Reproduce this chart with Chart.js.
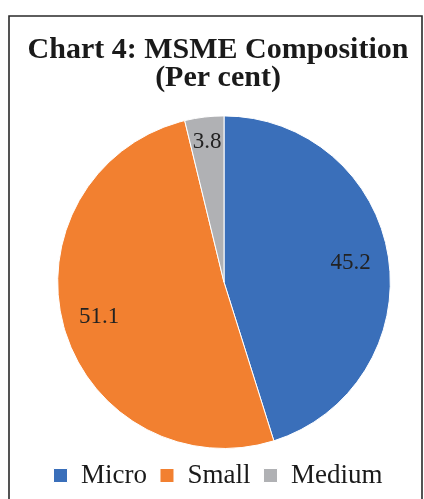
<!DOCTYPE html>
<html>
<head>
<meta charset="utf-8">
<script src="https://cdn.jsdelivr.net/npm/chart.js@4/dist/chart.umd.min.js"></script>
<style>
  html, body { margin: 0; padding: 0; background: #ffffff; }
  #wrap { position: relative; width: 424px; height: 499px; }
  canvas { display: block; }
</style>
</head>
<body>
<div id="wrap"><canvas id="c" width="424" height="499"></canvas></div>
<script>
// MSME composition, per cent
const categories = ['Micro', 'Small', 'Medium'];
const shares = [45.2, 51.1, 3.8];
const sliceColors = ['#3A6FBA', '#F28030', '#B0B1B4'];
const titleLines = ['Chart 4: MSME Composition', '(Per cent)'];

const SERIF = '"Liberation Serif", "Times New Roman", Times, serif';

// Thin frame around the chart (open at the bottom)
const framePlugin = {
  id: 'frame',
  beforeDraw(chart) {
    const ctx = chart.ctx;
    ctx.save();
    ctx.strokeStyle = '#2a2a2a';
    ctx.lineWidth = 1.6;
    ctx.beginPath();
    ctx.moveTo(9, chart.height + 2);
    ctx.lineTo(9, 16);
    ctx.lineTo(422, 16);
    ctx.lineTo(422, chart.height + 2);
    ctx.stroke();
    ctx.restore();
  }
};

// Nudge the plot area so the pie sits slightly right of the title/legend axis
const plotShift = {
  id: 'plotShift',
  afterLayout(chart, args, opts) {
    const a = chart.chartArea;
    a.left += opts.left || 0;
    a.width = a.right - a.left;
  }
};

// Value labels placed along each slice's mid-angle
const sliceLabels = {
  id: 'sliceLabels',
  afterDatasetsDraw(chart, args, opts) {
    const ctx = chart.ctx;
    const meta = chart.getDatasetMeta(0);
    const values = chart.data.datasets[0].data;
    ctx.save();
    ctx.font = opts.font;
    ctx.fillStyle = opts.color;
    ctx.textAlign = 'center';
    ctx.textBaseline = 'middle';
    meta.data.forEach((arc, i) => {
      const p = arc.getProps(['x', 'y', 'startAngle', 'endAngle', 'outerRadius'], true);
      const mid = (p.startAngle + p.endAngle) / 2;
      const r = p.outerRadius * opts.radial[i];
      ctx.fillText(values[i].toFixed(1), p.x + Math.cos(mid) * r, p.y + Math.sin(mid) * r);
    });
    ctx.restore();
  }
};

new Chart(document.getElementById('c'), {
  type: 'pie',
  data: {
    labels: categories,
    datasets: [{
      data: shares,
      backgroundColor: sliceColors,
      borderColor: '#ffffff',
      borderWidth: 1
    }]
  },
  options: {
    responsive: false,
    animation: false,
    layout: { padding: { top: 0, left: 12, right: 0, bottom: 0 } },
    plugins: {
      title: {
        display: true,
        text: titleLines,
        color: '#1a1a1a',
        font: { family: SERIF, size: 30, weight: 'bold', lineHeight: 0.94 },
        padding: { top: 36, bottom: 23 }
      },
      legend: {
        position: 'bottom',
        labels: {
          color: '#1a1a1a',
          font: { family: SERIF, size: 27 },
          boxWidth: 14,
          boxHeight: 14,
          padding: 13
        }
      },
      tooltip: { enabled: false },
      plotShift: { left: 12 },
      sliceLabels: {
        font: '23px ' + SERIF,
        color: '#222222',
        radial: [0.77, 0.78, 0.85]
      }
    }
  },
  plugins: [framePlugin, plotShift, sliceLabels]
});
</script>
</body>
</html>
